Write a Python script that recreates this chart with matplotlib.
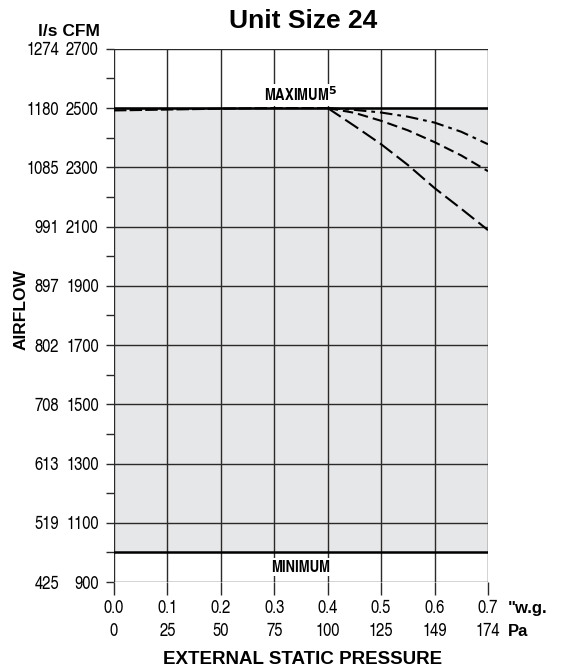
#!/usr/bin/env python3
"""Fan airflow vs external static pressure, unit size 24."""

import matplotlib
matplotlib.use("Agg")
import matplotlib.pyplot as plt
import matplotlib.transforms as mtransforms

plt.rcParams["font.family"] = ["Liberation Sans", "DejaVu Sans"]
NARROW = ["TeX Gyre Heros Cn", "PT Sans Narrow", "Liberation Sans", "DejaVu Sans"]

# x axis: external static pressure
PRESSURE_WG = [0.0, 0.1, 0.2, 0.3, 0.4, 0.5, 0.6, 0.7]
PRESSURE_PA = [0, 25, 50, 75, 100, 125, 149, 174]

# y axis: airflow
CFM_TICKS = [900, 1100, 1300, 1500, 1700, 1900, 2100, 2300, 2500, 2700]
LS_TICKS = [425, 519, 613, 708, 802, 897, 991, 1085, 1180, 1274]

MAXIMUM_CFM = 2500
MINIMUM_CFM = 1000

# common curve up to 0.4 "w.g.
COMMON_X = [0.0, 0.1, 0.2, 0.3, 0.4]
COMMON_Y = [2492, 2495, 2498, 2500, 2500]

# three curves that branch off after 0.4 "w.g.
BRANCH_X = [0.4, 0.45, 0.5, 0.55, 0.6, 0.65, 0.7]
BRANCH_DASHDOT = [2500, 2494, 2485, 2471, 2451, 2420, 2378]
BRANCH_MEDIUM = [2500, 2484, 2457, 2425, 2385, 2340, 2287]
BRANCH_LONG = [2500, 2440, 2378, 2308, 2230, 2160, 2088]


def main():
    fig = plt.figure(figsize=(5.62, 6.69), dpi=100)
    ax = fig.add_axes([0.2028, 0.130, 0.6655, 0.797])

    ax.set_xlim(0, 0.7)
    ax.set_ylim(900, 2700)

    ax.axhspan(MINIMUM_CFM, MAXIMUM_CFM, color="#e6e7e8", zorder=0)

    for x in PRESSURE_WG:
        ax.axvline(x, color="#2a2a2a", linewidth=1.0, zorder=1)
    for y in CFM_TICKS:
        ax.axhline(y, color="#2a2a2a", linewidth=1.0, zorder=1)
    ax.axhline(MAXIMUM_CFM, color="black", linewidth=1.8, zorder=2)
    ax.axhline(MINIMUM_CFM, color="black", linewidth=1.8, zorder=2)

    lw = 1.5
    ax.plot(COMMON_X, COMMON_Y, color="black", linewidth=lw, dashes=(6, 1.5), zorder=3)
    ax.plot(BRANCH_X, BRANCH_DASHDOT, color="black", linewidth=lw,
            dashes=(6, 2.4, 1.8, 2.4), zorder=3)
    ax.plot(BRANCH_X, BRANCH_MEDIUM, color="black", linewidth=lw,
            dashes=(5, 2.4), zorder=3)
    ax.plot(BRANCH_X, BRANCH_LONG, color="black", linewidth=lw,
            dashes=(7.5, 2.6), zorder=3)

    for spine in ax.spines.values():
        spine.set_visible(False)

    # y ticks: CFM as tick labels, l/s as a second column
    ax.set_yticks(CFM_TICKS)
    ax.set_yticklabels([str(v) for v in CFM_TICKS], fontsize=13, family=NARROW)
    ax.set_yticks(range(1000, 2700, 200), minor=True)
    ax.tick_params(axis="y", which="both", direction="out", length=5.5, width=1.0,
                   color="#2a2a2a", pad=5.5)
    ytrans = mtransforms.blended_transform_factory(ax.transAxes, ax.transData)
    for ls, cfm in zip(LS_TICKS, CFM_TICKS):
        ax.text(-0.147, cfm, str(ls), transform=ytrans, ha="right",
                va="center_baseline", fontsize=13, family=NARROW)
    ax.text(-0.037, 1.032, "l/s CFM", transform=ax.transAxes, ha="right",
            va="center", fontsize=12.5, fontweight="bold")

    # x ticks: "w.g. on first row, Pa on second row
    ax.set_xticks(PRESSURE_WG)
    ax.set_xticklabels([])
    ax.tick_params(axis="x", direction="out", length=9.5, width=1.0,
                   color="#2a2a2a")
    xtrans = mtransforms.blended_transform_factory(ax.transData, ax.transAxes)
    for wg, pa in zip(PRESSURE_WG, PRESSURE_PA):
        ax.text(wg, -0.0496, f"{wg:.1f}", transform=xtrans, ha="center",
                va="center", fontsize=13, family=NARROW)
        ax.text(wg, -0.0936, str(pa), transform=xtrans, ha="center",
                va="center", fontsize=13, family=NARROW)
    ax.text(1.053, -0.0496, '"w.g.', transform=ax.transAxes, ha="left",
            va="center", fontsize=12, fontweight="bold")
    ax.text(1.053, -0.0936, "Pa", transform=ax.transAxes, ha="left",
            va="center", fontsize=12, fontweight="bold")

    ax.text(0.35, 2545, "MAXIMUM$^{\\mathbf{5}}$", ha="center", va="center",
            fontsize=11.5, fontweight="bold", family=NARROW,
            bbox=dict(facecolor="white", edgecolor="none", pad=1))
    ax.text(0.35, 950, "MINIMUM", ha="center", va="center", fontsize=11.5,
            fontweight="bold", family=NARROW,
            bbox=dict(facecolor="white", edgecolor="none", pad=1))

    fig.text(0.538, 1 - 659 / 669, "EXTERNAL STATIC PRESSURE", ha="center",
             va="center", fontsize=13.5, fontweight="bold")
    fig.text(0.037, 0.537, "AIRFLOW", rotation=90, ha="center", va="center",
             fontsize=12.5, fontweight="bold")
    fig.text(0.539, 1 - 20.5 / 669, "Unit Size 24", ha="center", va="center",
             fontsize=19, fontweight="bold")

    fig.savefig("out.png", dpi=100)


if __name__ == "__main__":
    main()
